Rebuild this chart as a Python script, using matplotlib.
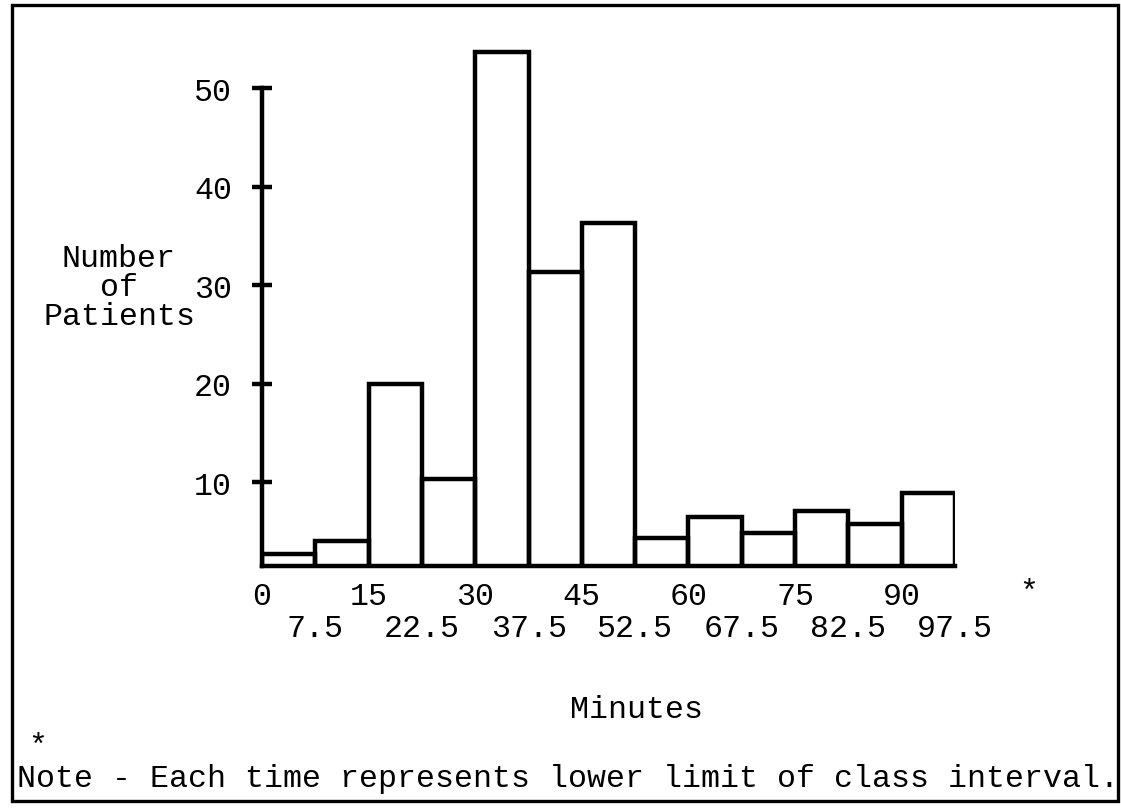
#!/usr/bin/env python3
"""
Recreate the typewritten histogram: Number of Patients vs Minutes
"""

import matplotlib
matplotlib.use('Agg')
import matplotlib.pyplot as plt
from matplotlib.patches import Rectangle

# class intervals (lower limits, minutes) and counts
bin_starts = [0, 7.5, 15, 22.5, 30, 37.5, 45, 52.5, 60, 67.5, 75, 82.5, 90]
counts = [2.7, 4.0, 20, 10.3, 53.7, 31.3, 36.3, 4.3, 6.5, 4.9, 7.1, 5.8, 8.9]
bin_width = 7.5

upper_ticks = [0, 15, 30, 45, 60, 75, 90]
upper_labels = ['0', '15', '30', '45', '60', '75', '90']
lower_ticks = [7.5, 22.5, 37.5, 52.5, 67.5, 82.5, 97.5]
lower_labels = ['7.5', '22.5', '37.5', '52.5', '67.5', '82.5', '97.5']
y_ticks = [10, 20, 30, 40, 50]

W, H = 1121, 812
FONT = 'Liberation Mono'
FS = 22.8

plt.rcParams['font.family'] = FONT


def px(x, y_top):
    """pixel position (from top-left) -> figure fraction"""
    return x / W, 1 - y_top / H


fig = plt.figure(figsize=(W / 100, H / 100), dpi=100)

# axes placed so baseline / scale match the page
y_base = 1.5
y_top = 55.0
unit = 9.85  # px per patient
ax_left, ax_right = 262, 955
ax_bottom_px = 567
ax_h = (y_top - y_base) * unit
ax = fig.add_axes([ax_left / W, 1 - ax_bottom_px / H,
                   (ax_right - ax_left) / W, ax_h / H])
ax.set_xlim(0, 97.5)
ax.set_ylim(y_base, y_top)
ax.patch.set_alpha(0)

ax.bar(bin_starts, counts, width=bin_width, align='edge', bottom=0,
       fill=False, edgecolor='black', linewidth=3.2)

for side in ['top', 'right']:
    ax.spines[side].set_visible(False)
ax.spines['left'].set_bounds(y_base, 50)
ax.spines['left'].set_linewidth(3.2)
ax.spines['bottom'].set_linewidth(3.2)

ax.set_yticks(y_ticks)
ax.set_yticklabels([str(t) for t in y_ticks], fontsize=FS)
ax.tick_params(axis='y', direction='inout', length=15, width=3.2, pad=14)

ax.set_xticks(upper_ticks)
ax.set_xticklabels(upper_labels, fontsize=FS)
ax.set_xticks(lower_ticks, minor=True)
ax.set_xticklabels(lower_labels, minor=True, fontsize=FS)
ax.tick_params(axis='x', which='major', length=0, pad=11)
ax.tick_params(axis='x', which='minor', length=0, pad=34)

# footnote marker after the last upper label
fig.text(*px(1029, 593), '*', fontsize=FS, ha='center', va='center')

fig.text(*px(119, 288), 'Number\nof\nPatients', fontsize=FS,
         ha='center', va='center', multialignment='center', linespacing=0.95)

fig.text(*px(636, 710), 'Minutes', fontsize=FS, ha='center', va='center')
fig.text(*px(38, 747), '*', fontsize=FS, ha='center', va='center')
fig.text(*px(17, 779), 'Note - Each time represents lower limit of class interval.',
         fontsize=FS, ha='left', va='center')

# page frame
x0, y0 = px(12, 802)
x1, y1 = px(1118, 6)
fig.patches.append(Rectangle((x0, y0), x1 - x0, y1 - y0, transform=fig.transFigure,
                             fill=False, edgecolor='black', linewidth=2.4))

fig.savefig('out.png', dpi=100)
